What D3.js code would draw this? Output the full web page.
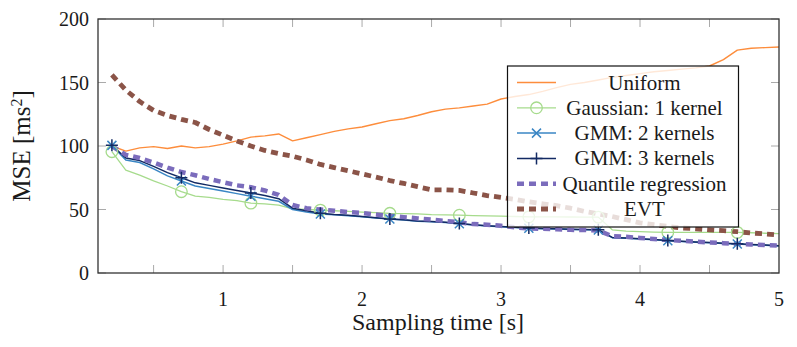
<!DOCTYPE html>
<html><head><meta charset="utf-8">
<script src="https://cdn.jsdelivr.net/npm/d3@7"></script>
<style>body{margin:0;background:#fff}svg{display:block}</style>
</head><body><svg id="c" width="797" height="347" font-family="Liberation Serif" fill="#1a1a1a"></svg>
<script>
const times = d3.range(2, 51).map(i => i / 10);
const uniform = [100,96,98.5,99.5,98,100,98.5,99.5,101.5,104,107,108,109.5,104,106.5,109,111.5,113.5,115,117.5,120,121.5,124,127,129,130,131.5,133,137,139,140.5,143,146,148.5,150,152,154,155.5,157,158.5,159.5,160.5,161.5,163,168,175.5,177,177.5,178];
const gaussian = [95.5,81,77,72.5,68.5,64,60.5,59.5,58,57,55,54.5,53.5,50.5,50,49.5,49,48.5,48,47.5,47,46.8,46.5,46,45.8,45.5,45.2,45,44.8,44.5,44.2,44.2,44.2,44.1,44,44,34,33,32.5,32.2,32,32,32,32,32,32,31.7,31.3,31];
const gmm2 = [100.5,89,87,82,76.5,72.5,68.5,66.5,64.5,62.5,60.5,58.5,56.5,50,48,46.5,45.8,45,44.2,43.3,42.5,41.8,40.8,40.3,39.8,38.8,37.8,37,36.5,35.8,35.2,34.8,34.6,34.3,34,33.8,27.8,27.3,26.8,26.1,25.4,24.8,24.3,23.8,23.3,22.8,22.3,21.8,21.3];
const gmm3 = [100.5,90.5,88.5,84,79,75,71,69,67,65,63,61,58.5,51,49,47,46,45.5,44.5,43.5,42.5,42,41,40.5,40,39,38,37.2,36.7,36,35.4,35,34.8,34.5,34.2,34,28,27.5,27,26.3,25.6,25,24.5,24,23.5,23,22.5,22,21.5];
const quantile = [100,93,90.5,87,83,79.5,77,74,71.5,69,67.5,65,61.5,53.5,51,50,49,48,47.3,46,45,44,43,42,41,40,38.5,38,37.2,36,35,34.8,34.5,34,33.8,33.5,29,28.5,27.6,26.8,26,25.3,24.7,24,23.5,23,22.5,22,21.5];
const evt = [156,144,135,128,124,121,118.5,113,108.5,104,100,96.5,94,92,89,85.5,83,80.5,78,75.5,72.8,70.5,68,65.5,65.5,65,63,61,59.5,58,56,54.5,53,51,48.5,46.5,44.5,42,39.5,38,36.7,35.5,34.8,34,33.3,32.5,31.5,30.8,30];
const xTicks = [1,2,3,4,5];
const xMinorTicks = [0.5,1,1.5,2,2.5,3,3.5,4,4.5];
const yTicks = [0,50,100,150,200];
const seriesNames = ["Uniform","Gaussian: 1 kernel","GMM: 2 kernels","GMM: 3 kernels","Quantile regression","EVT"];

const series = [
  {name: seriesNames[0], values: uniform, color: "#fd8d3c", width: 1.4, dash: null, mark: null},
  {name: seriesNames[1], values: gaussian, color: "#a6db8c", width: 1.3, dash: null, mark: "circle"},
  {name: seriesNames[2], values: gmm2, color: "#3a86c4", width: 1.5, dash: null, mark: "x"},
  {name: seriesNames[3], values: gmm3, color: "#132a63", width: 1.5, dash: null, mark: "plus"},
  {name: seriesNames[4], values: quantile, color: "#7b6cbc", width: 4.5, dash: "7,5", mark: null},
  {name: seriesNames[5], values: evt, color: "#8b5448", width: 4.8, dash: "7,5", mark: null}
];

const svg = d3.select("#c");
const L = 98, R = 779, T = 19, B = 273;
const x = d3.scaleLinear().domain([0.1, 5]).range([L, R]);
const y = d3.scaleLinear().domain([0, 200]).range([B, T]);

const tk = svg.append("g").attr("stroke", "#aaa").attr("stroke-width", 1);
xMinorTicks.forEach(v => {
  tk.append("line").attr("x1", x(v)).attr("x2", x(v)).attr("y1", B).attr("y2", B - 8);
  tk.append("line").attr("x1", x(v)).attr("x2", x(v)).attr("y1", T).attr("y2", T + 8);
});
yTicks.forEach(v => {
  tk.append("line").attr("x1", L).attr("x2", L + 8).attr("y1", y(v)).attr("y2", y(v));
  tk.append("line").attr("x1", R).attr("x2", R - 8).attr("y1", y(v)).attr("y2", y(v));
});

const line = d3.line().x((d, i) => x(times[i])).y(d => y(d));
const plot = svg.append("g");
series.forEach(s => {
  plot.append("path").attr("d", line(s.values)).attr("fill", "none")
    .attr("stroke", s.color).attr("stroke-width", s.width)
    .attr("stroke-dasharray", s.dash).attr("stroke-linejoin", "round");
});

function drawMark(g, type, cx, cy, color) {
  if (type === "circle") {
    g.append("circle").attr("cx", cx).attr("cy", cy).attr("r", 5.8).attr("fill", "none").attr("stroke", color).attr("stroke-width", 1.3);
  } else if (type === "x") {
    const r = 4.5;
    g.append("path").attr("d", `M${cx-r},${cy-r}L${cx+r},${cy+r}M${cx-r},${cy+r}L${cx+r},${cy-r}`).attr("stroke", color).attr("stroke-width", 1.5);
  } else if (type === "plus") {
    const r = 6;
    g.append("path").attr("d", `M${cx-r},${cy}L${cx+r},${cy}M${cx},${cy-r}L${cx},${cy+r}`).attr("stroke", color).attr("stroke-width", 1.5);
  }
}
const marks = svg.append("g");
series.forEach(s => {
  if (!s.mark) return;
  s.values.forEach((v, i) => { if (i % 5 === 0) drawMark(marks, s.mark, x(times[i]), y(v), s.color); });
});

svg.append("rect").attr("x", L).attr("y", T).attr("width", R - L).attr("height", B - T)
  .attr("fill", "none").attr("stroke", "#333").attr("stroke-width", 1.3);

xTicks.forEach(v => svg.append("text").attr("x", x(v)).attr("y", 306).attr("text-anchor", "middle").attr("font-size", 20).text(v));
yTicks.forEach(v => svg.append("text").attr("x", 89).attr("y", y(v) + 7).attr("text-anchor", "end").attr("font-size", 20).text(v));

svg.append("text").attr("x", 438).attr("y", 330).attr("text-anchor", "middle").attr("font-size", 24).text("Sampling time [s]");
const yl = svg.append("text").attr("transform", "translate(30,146) rotate(-90)").attr("text-anchor", "middle").attr("font-size", 25);
yl.append("tspan").text("MSE [ms");
yl.append("tspan").attr("baseline-shift", "super").attr("font-size", 16).text("2");
yl.append("tspan").text("]");

const lg = svg.append("g");
lg.append("rect").attr("x", 507.5).attr("y", 66).attr("width", 231).attr("height", 161)
  .attr("fill", "#fff").attr("fill-opacity", 0.8).attr("stroke", "#111").attr("stroke-width", 1.2);
series.forEach((s, i) => {
  const cy = 82.5 + i * 25.3;
  lg.append("line").attr("x1", 517).attr("x2", 556).attr("y1", cy).attr("y2", cy)
    .attr("stroke", s.color).attr("stroke-width", s.width).attr("stroke-dasharray", s.dash);
  if (s.mark) drawMark(lg, s.mark, 536.5, cy, s.color);
  lg.append("text").attr("x", 644.5).attr("y", cy + 7).attr("text-anchor", "middle").attr("font-size", 21).text(s.name);
});
</script></body></html>
